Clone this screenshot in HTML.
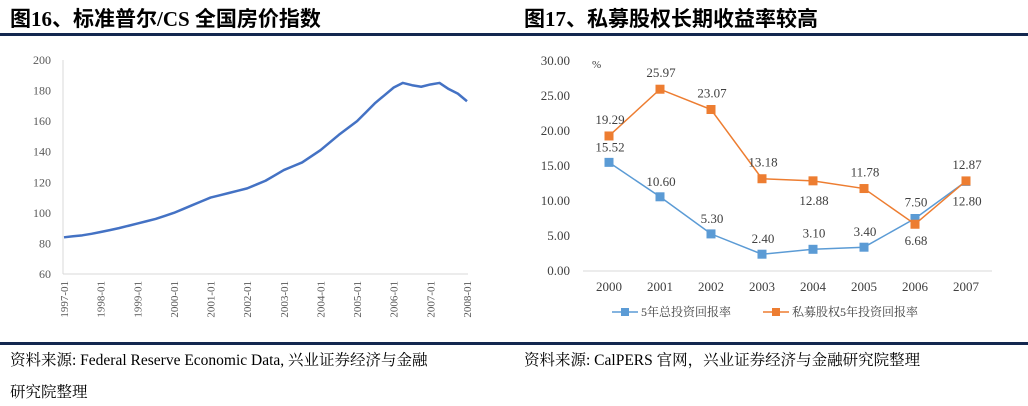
<!DOCTYPE html>
<html><head><meta charset="utf-8"><style>
body{margin:0;width:1028px;height:406px;background:#fff;overflow:hidden;position:relative;font-family:"Liberation Serif","Noto Serif CJK SC",serif}
.t{position:absolute;top:3px;font:bold 21px "Liberation Serif","Noto Sans CJK SC",sans-serif;color:#000}
.line{position:absolute;left:0;width:1028px;height:3px;background:#13284f}
.src{position:absolute;font-size:15.5px;color:#000;white-space:nowrap}
svg{position:absolute;left:0;top:0}
</style></head><body>
<div class="t" style="left:10px">图16、标准普尔/CS 全国房价指数</div>
<div class="t" style="left:524px">图17、私募股权长期收益率较高</div>
<div class="line" style="top:33px"></div>
<div class="line" style="top:342px"></div>
<div class="src" style="left:10px;top:348px">资料来源: Federal Reserve Economic Data, 兴业证券经济与金融</div>
<div class="src" style="left:10px;top:380px">研究院整理</div>
<div class="src" style="left:524px;top:348px">资料来源: CalPERS 官网，兴业证券经济与金融研究院整理</div>
<svg id="c" width="1028" height="406"></svg>
<script>
const hpiValues=[84,84.7,85.3,86.3,87.5,88.7,90,91.5,93,94.5,96,98,100,102.5,105,107.5,110,111.5,113,114.5,116,118.5,121,124.5,128,130.5,133,137,141,146,151,155.5,160,166,172,177,182,185,183.5,182.5,184,185,181,178,173];
const hpiYTicks=[60,80,100,120,140,160,180,200];
const hpiXLabels=["1997-01","1998-01","1999-01","2000-01","2001-01","2002-01","2003-01","2004-01","2005-01","2006-01","2007-01","2008-01"];
const years=["2000","2001","2002","2003","2004","2005","2006","2007"];
const totalReturn=[15.52,10.60,5.30,2.40,3.10,3.40,7.50,12.80];
const peReturn=[19.29,25.97,23.07,13.18,12.88,11.78,6.68,12.87];
const rYTicks=["0.00","5.00","10.00","15.00","20.00","25.00","30.00"];

const svg=document.getElementById('c');const NS="http://www.w3.org/2000/svg";
function mk(t,a,txt){const e=document.createElementNS(NS,t);for(const k in a)e.setAttribute(k,a[k]);if(txt!=null)e.textContent=txt;svg.appendChild(e);return e;}
const F='"Liberation Serif","Noto Serif CJK SC",serif';
const lx0=64,lx1=467,ly=v=>274-(v-60)/140*214,lxq=i=>lx0+i*(lx1-lx0)/44;
let e=mk('line',{x1:63,y1:60,x2:63,y2:274,stroke:'#d9d9d9'});

e=mk('line',{x1:63,y1:274,x2:468,y2:274,stroke:'#d9d9d9'});

hpiYTicks.forEach(v=>{const t=mk('text',{x:51,y:ly(v)+4,'text-anchor':'end','font-size':12,'font-family':F,fill:'#595959'},v);
});
hpiXLabels.forEach((l,i)=>{const x=lx0+i*(lx1-lx0)/11;const t=mk('text',{x:0,y:0,transform:`translate(${x+4},281) rotate(-90)`,'text-anchor':'end','font-size':11,'font-family':F,fill:'#595959'},l);
});
e=mk('polyline',{points:hpiValues.map((v,i)=>lxq(i)+','+ly(v)).join(' '),fill:'none',stroke:'#4472c4','stroke-width':2.5,'stroke-linejoin':'round'});

const rx=i=>609+i*51,ry=v=>271-v/30*210;
e=mk('line',{x1:583,y1:271,x2:992,y2:271,stroke:'#d9d9d9'});

rYTicks.forEach(l=>{const t=mk('text',{x:570,y:ry(+l)+4,'text-anchor':'end','font-size':13,'font-family':F,fill:'#404040'},l);
});
e=mk('text',{x:592,y:68,'font-size':11,'font-family':F,fill:'#404040'},'%');

years.forEach((y,i)=>{const t=mk('text',{x:rx(i),y:291,'text-anchor':'middle','font-size':13,'font-family':F,fill:'#404040'},y);
});
function series(vals,color,name,offs){
 const p=mk('polyline',{points:vals.map((v,i)=>rx(i)+','+ry(v)).join(' '),fill:'none',stroke:color,'stroke-width':1.5});
 
 vals.forEach((v,i)=>{const r=mk('rect',{x:rx(i)-4.5,y:ry(v)-4.5,width:9,height:9,fill:color});
  
  const t=mk('text',{x:rx(i)+1,y:ry(v)+offs[i],'text-anchor':'middle','font-size':13,'font-family':F,fill:'#404040'},v.toFixed(2));
  });
}
series(totalReturn,'#5b9bd5','total-return',[-11,-11,-11,-11,-12,-11,-12,24]);
series(peReturn,'#ed7d31','pe-return',[-12,-12,-12,-12,24,-12,21,-12]);
[[612,'#5b9bd5','5年总投资回报率','legend-total-return'],[763,'#ed7d31','私募股权5年投资回报率','legend-pe-return']].forEach(([x,c,l,n])=>{
 const g=mk('line',{x1:x,y1:312,x2:x+26,y2:312,stroke:c,'stroke-width':1.5});
 const r=mk('rect',{x:x+9,y:308,width:8,height:8,fill:c});
 const t=mk('text',{x:x+29,y:316,'font-size':12,'font-family':F,fill:'#404040'},l);
});
</script>
</body></html>
